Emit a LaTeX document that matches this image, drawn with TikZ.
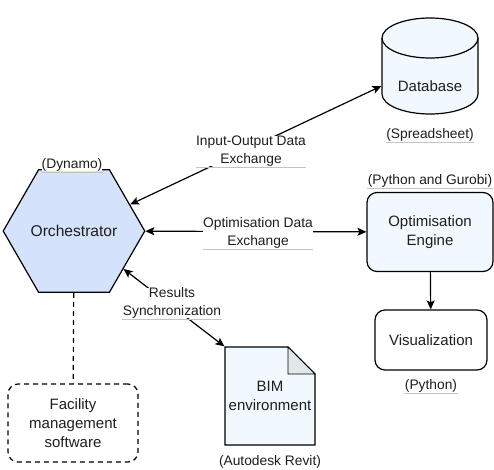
\documentclass[tikz,border=0pt]{standalone}
\usepackage{fontspec}
\setmainfont{Liberation Sans}
\usetikzlibrary{arrows.meta, positioning, shapes.geometric}

\definecolor{hexfill}{HTML}{D5E2FB}
\definecolor{boxfill}{HTML}{F1F9FE}
\definecolor{foldfill}{HTML}{E1E8E9}
\definecolor{ulgray}{HTML}{C4C4C4}
\definecolor{textgray}{HTML}{1E1E1E}

\newcommand{\boxfont}{\fontsize{15}{19}\selectfont}
\newcommand{\notefont}{\fontsize{13.8}{18}\selectfont}

\tikzset{
  box/.style={draw, rounded corners=10pt, align=center, font=\boxfont, text=textgray},
  bare/.style={font=\notefont, align=center, inner sep=0pt, fill=white, text=textgray},
  note/.style={bare, append after command={(\tikzlastnode.south west) edge[draw=ulgray, line width=0.7pt] (\tikzlastnode.south east)}}
}

\begin{document}
\begin{tikzpicture}[x=1pt, y=-1pt, line width=1.2pt, >={Stealth[length=9pt, width=8pt, inset=2pt]}]
  \useasboundingbox (0,0) rectangle (494,469);

  % database cylinder
  \filldraw[fill=boxfill] (382,38) -- (382,94) arc[start angle=180, end angle=0, x radius=48, y radius=20] -- (478,38);
  \filldraw[fill=boxfill] (430,38) ellipse [x radius=48, y radius=20];
  \node[font=\boxfont, text=textgray, minimum width=96pt, inner sep=0pt] (db) at (430,86) {Database};

  % BIM document
  \filldraw[fill=boxfill] (225,347) -- (288,347) -- (315,374) -- (315,445) -- (225,445) -- cycle;
  \filldraw[fill=foldfill, line width=0.8pt] (288,347) -- (288,374) -- (315,374) -- cycle;
  \node[font=\boxfont, text=textgray, align=center, minimum width=90pt, minimum height=98pt, inner sep=0pt] (bim) at (270,396) {BIM\\environment};

  \node[regular polygon, regular polygon sides=6, minimum size=122pt, inner sep=0pt, draw, fill=hexfill, text=textgray, font=\fontsize{15.6}{19}\selectfont] (orch) at (74,231) {Orchestrator};
  \node[box, fill=boxfill, minimum width=126pt, minimum height=79pt] (opt) at (430,232) {Optimisation\\Engine};
  \node[box, minimum width=112pt, minimum height=60pt] (vis) at (431,340) {Visualization};
  \node[box, dash pattern=on 5pt off 4pt, minimum width=130pt, minimum height=78pt] (fms) at (73,423) {Facility\\management\\software};

  \draw[<->] (orch) -- (db.west);
  \draw[<->] (orch) -- (opt);
  \draw[<->] (orch) -- (bim.north west);
  \draw[->] (opt) -- (vis);
  \draw[dash pattern=on 5pt off 4pt] (orch) -- (fms);

  % labels
  \node[note] (iolbl) at (251,151) {Input-Output Data\\Exchange};
  \node[note] (optlbl) at (258,233) {Optimisation Data\\Exchange};
  \node[note] (reslbl) at (172,303) {Results\\Synchronization};
  \node[note] (dyn) at (72,165) {(Dynamo)};
  \node[note] (sprd) at (430,135) {(Spreadsheet)};
  \node[note] (gurobi) at (430,181) {(Python and Gurobi)};
  \node[note] (pyth) at (431,386) {(Python)};
  \node[bare] (revit) at (270,462) {(Autodesk Revit)};
\end{tikzpicture}
\end{document}
